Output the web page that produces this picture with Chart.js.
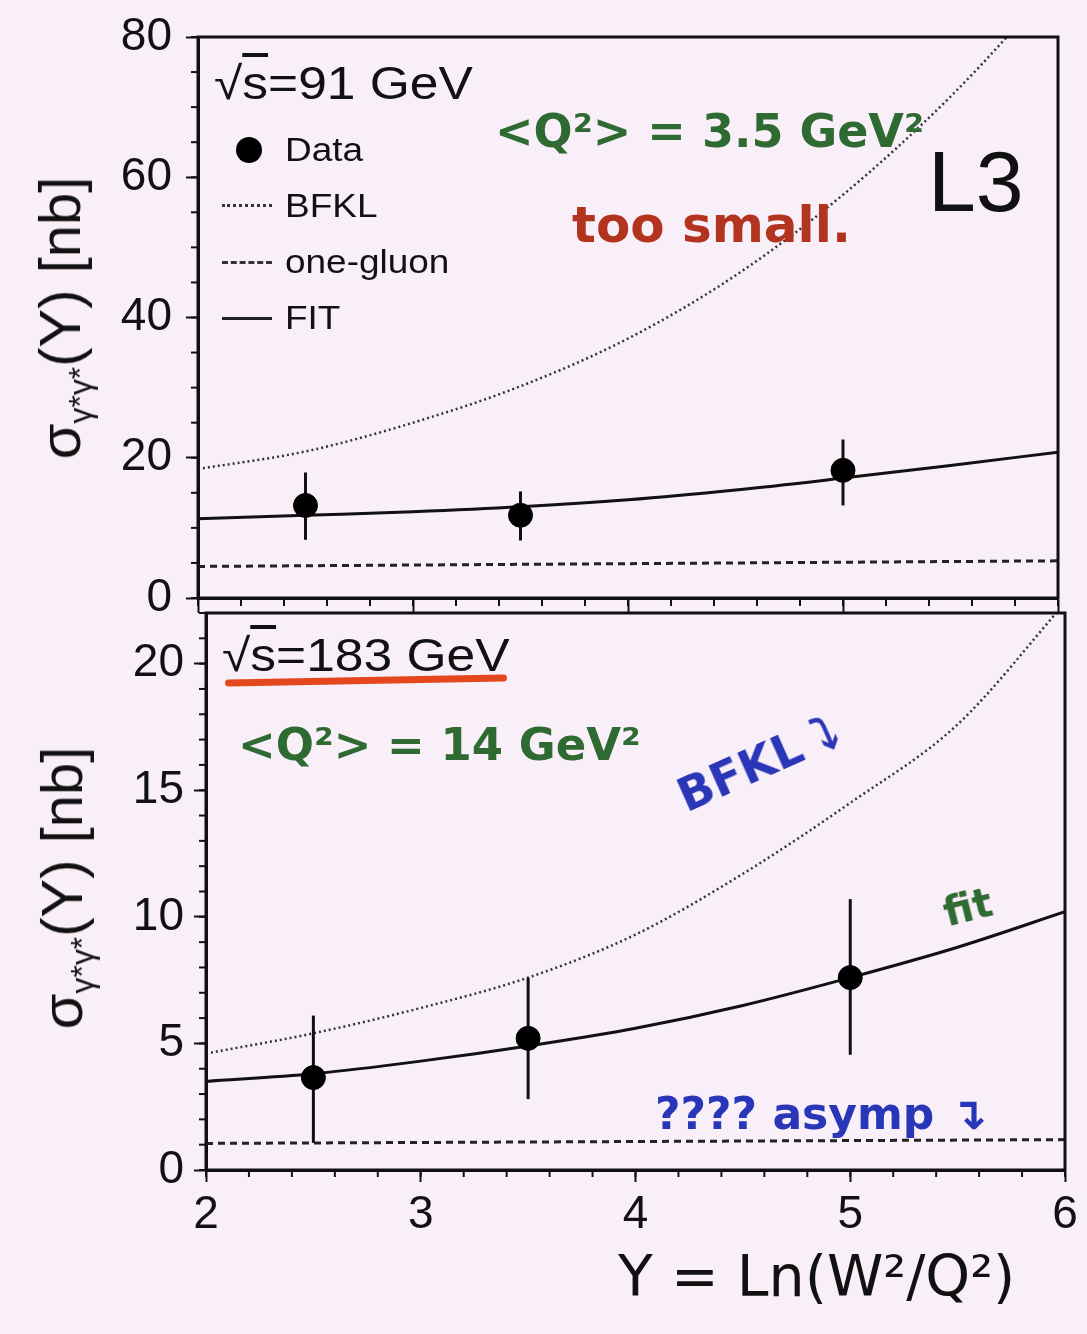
<!DOCTYPE html>
<html>
<head>
<meta charset="utf-8">
<script src="https://cdn.jsdelivr.net/npm/chart.js@4.4.1/dist/chart.umd.min.js"></script>
<style>
  body { margin: 0; width: 1087px; height: 1334px; background: #f8eff8; position: relative; overflow: hidden;
         font-family: "Liberation Sans", Arial, sans-serif; color: #111; }
  .box { position: absolute; left: 0; width: 1087px; }
  .t { position: absolute; white-space: nowrap; line-height: 1; }
  .wide { transform: scaleX(1.12); transform-origin: left center; }
  .hand { font-family: "DejaVu Sans", sans-serif; font-weight: bold; }
  .ytitle { position: absolute; white-space: nowrap; font-size: 58px; line-height: 1;
            transform: translate(-50%, -50%) rotate(-90deg); }
  .ytitle sub { font-size: 0.55em; vertical-align: -0.35em; }
  .ov { text-decoration: overline; }
  .smp { position: absolute; left: 222px; width: 50px; height: 0; }
</style>
</head>
<body>

<div class="box" style="top:0;height:640px"><canvas id="top"></canvas></div>
<div class="box" style="top:600px;height:734px"><canvas id="bottom"></canvas></div>

<!-- axis titles -->
<div class="ytitle" style="left:64px;top:318px">σ<sub>γ*γ*</sub>(Y) [nb]</div>
<div class="ytitle" style="left:66px;top:888px">σ<sub>γ*γ*</sub>(Y) [nb]</div>
<div class="t hand" style="left:618px;top:1248px;font-size:57px;font-weight:normal">Y = Ln(W²/Q²)</div>

<!-- top panel labels -->
<div class="t wide" style="left:214px;top:60px;font-size:46px">√<span class="ov">s</span>=91 GeV</div>
<div class="t" style="left:928px;top:138px;font-size:86px">L3</div>
<div class="t" style="left:236px;top:137px;width:26px;height:26px;border-radius:50%;background:#000"></div>
<div class="t wide" style="left:285px;top:133px;font-size:33px">Data</div>
<div class="smp" style="top:204px;border-top:3px dotted #333"></div>
<div class="t wide" style="left:285px;top:189px;font-size:33px">BFKL</div>
<div class="smp" style="top:261px;border-top:3px dashed #333"></div>
<div class="t wide" style="left:285px;top:245px;font-size:33px">one-gluon</div>
<div class="smp" style="top:317px;border-top:3px solid #222"></div>
<div class="t wide" style="left:285px;top:301px;font-size:33px">FIT</div>
<div class="t hand" style="left:495px;top:108px;font-size:46px;color:#2f6a33">&lt;Q²&gt; = 3.5 GeV²</div>
<div class="t hand" style="left:572px;top:200px;font-size:50px;color:#b2341f">too small.</div>

<!-- bottom panel labels -->
<div class="t wide" style="left:222px;top:632px;font-size:46px">√<span class="ov">s</span>=183 GeV</div>
<div class="t" style="left:225px;top:677px;width:282px;height:7px;border-radius:4px;background:#e4471d;transform:rotate(-1deg)"></div>
<div class="t hand" style="left:238px;top:722px;font-size:45px;color:#2f6a33">&lt;Q²&gt; = 14 GeV²</div>
<div class="t hand" style="left:680px;top:775px;font-size:46px;color:#2a36b8;transform:rotate(-24deg);transform-origin:left center">BFKL ⤵</div>
<div class="t hand" style="left:944px;top:893px;font-size:40px;color:#2f6a33;transform:rotate(-14deg);transform-origin:left center">fit</div>
<div class="t hand" style="left:655px;top:1092px;font-size:44px;color:#2a36b8">???? asymp ↴</div>

<script>
// shared x positions, Y = ln(W²/Q²)
const curveY = [2, 2.5, 3, 3.5, 4, 4.5, 5, 5.5, 6];
const gluonY = [2, 6];
const dataY  = [2.5, 3.5, 5.0];

// √s = 91 GeV
const bfkl91   = [18.4, 20.9, 25.0, 30.2, 37.0, 46.0, 57.5, 71.5, 88.0];
const fit91    = [11.3, 11.8, 12.3, 13.0, 14.0, 15.4, 17.1, 18.9, 20.8];
const gluon91  = [4.5, 5.3];
const data91   = [13.2, 11.8, 18.2];
const errLo91  = [8.3, 8.2, 13.2];
const errHi91  = [17.9, 15.2, 22.6];

// √s = 183 GeV
const bfkl183  = [4.6, 5.4, 6.4, 7.6, 9.3, 11.7, 14.5, 17.6, 22.4];
const fit183   = [3.5, 3.8, 4.3, 4.9, 5.6, 6.5, 7.6, 8.8, 10.2];
const gluon183 = [1.05, 1.2];
const data183  = [3.65, 5.2, 7.6];
const errLo183 = [1.07, 2.8, 4.55];
const errHi183 = [6.1, 7.6, 10.7];

const xy = (xs, ys) => xs.map((x, i) => ({ x, y: ys[i] }));

// ticks between the labelled ones, drawn off the library's scales
const minorTicks = {
    id: 'minorTicks',
    afterDraw(chart, args, opts) {
        const ctx = chart.ctx;
        ctx.save(); ctx.strokeStyle = '#111'; ctx.lineWidth = 2;
        (opts.list || []).forEach(m => {
            const sc = chart.scales[m.axis];
            const n = Math.round((sc.max - sc.min) / m.step);
            for (let i = 0; i <= n; i++) {
                const p = sc.getPixelForValue(sc.min + i * m.step);
                ctx.beginPath();
                if (sc.isHorizontal()) { ctx.moveTo(p, sc.top); ctx.lineTo(p, sc.top + m.len); }
                else { ctx.moveTo(sc.right, p); ctx.lineTo(sc.right - m.len, p); }
                ctx.stroke();
            }
        });
        ctx.restore();
    }
};

const frame = {
    id: 'frame',
    afterDraw(chart) {
        const { ctx, chartArea: a } = chart;
        ctx.save(); ctx.strokeStyle = '#111'; ctx.lineWidth = 3;
        ctx.strokeRect(a.left, a.top, a.right - a.left, a.bottom - a.top);
        ctx.restore();
    }
};

function buildPanel(id, o) {
    const errBars = dataY.map((x, i) => ({
        type: 'line', data: [{ x, y: o.lo[i] }, { x, y: o.hi[i] }],
        borderColor: '#111', borderWidth: 3, pointRadius: 0, order: 1
    }));
    const tickFont = { family: '"Liberation Sans", Arial, sans-serif', size: 46 };
    return new Chart(document.getElementById(id), {
        type: 'scatter',
        data: {
            datasets: [
                { data: xy(dataY, o.pts), backgroundColor: '#000', borderColor: '#000', pointRadius: 12, order: 0 },
                ...errBars,
                { type: 'line', data: xy(curveY, o.fit), borderColor: '#111', borderWidth: 3, pointRadius: 0, cubicInterpolationMode: 'monotone', order: 2 },
                { type: 'line', data: xy(curveY, o.bfkl), borderColor: '#333', borderWidth: 2.5, borderDash: [2, 3], pointRadius: 0, cubicInterpolationMode: 'monotone', order: 2 },
                { type: 'line', data: xy(gluonY, o.gluon), borderColor: '#222', borderWidth: 3, borderDash: [7, 5], pointRadius: 0, order: 2 }
            ]
        },
        options: {
            responsive: true,
            maintainAspectRatio: false,
            animation: false,
            events: [],
            layout: { padding: o.pad },
            plugins: {
                legend: { display: false },
                tooltip: { enabled: false },
                minorTicks: { list: o.minor }
            },
            scales: {
                x: {
                    type: 'linear', min: 2, max: 6,
                    border: { display: true, color: '#111', width: 3 },
                    grid: { drawOnChartArea: false, drawTicks: true, tickLength: o.xTickLen, tickWidth: 2, tickColor: '#111' },
                    ticks: { stepSize: 1, color: '#111', font: tickFont, padding: 6, maxRotation: 0,
                             callback: v => o.xLabels ? v : '' },
                    afterFit: s => { s.height = o.xHeight; s.paddingLeft = 0; s.paddingRight = 0; }
                },
                y: {
                    min: 0, max: o.yMax,
                    border: { display: true, color: '#111', width: 3 },
                    grid: { drawOnChartArea: false, drawTicks: true, tickLength: 12, tickWidth: 2, tickColor: '#111' },
                    ticks: { stepSize: o.yStep, includeBounds: false, color: '#111', font: tickFont, padding: o.yPad },
                    afterFit: s => { s.width = o.yWidth; s.paddingTop = 0; s.paddingBottom = 0; }
                }
            }
        },
        plugins: [minorTicks, frame]
    });
}

buildPanel('top', {
    pts: data91, lo: errLo91, hi: errHi91, fit: fit91, bfkl: bfkl91, gluon: gluon91,
    yMax: 80, yStep: 20, yWidth: 198, yPad: 14, xLabels: false, xHeight: 42, xTickLen: 15,
    pad: { top: 37, right: 29, left: 0, bottom: 0 },
    minor: [{ axis: 'x', step: 0.2, len: 8 }, { axis: 'y', step: 5, len: 7 }]
});

buildPanel('bottom', {
    pts: data183, lo: errLo183, hi: errHi183, fit: fit183, bfkl: bfkl183, gluon: gluon183,
    yMax: 22, yStep: 5, yWidth: 206, yPad: 10, xLabels: true, xHeight: 164, xTickLen: 12,
    pad: { top: 13, right: 22, left: 0, bottom: 0 },
    minor: [{ axis: 'x', step: 0.2, len: 7 }, { axis: 'y', step: 1, len: 7 }]
});
</script>
</body>
</html>
